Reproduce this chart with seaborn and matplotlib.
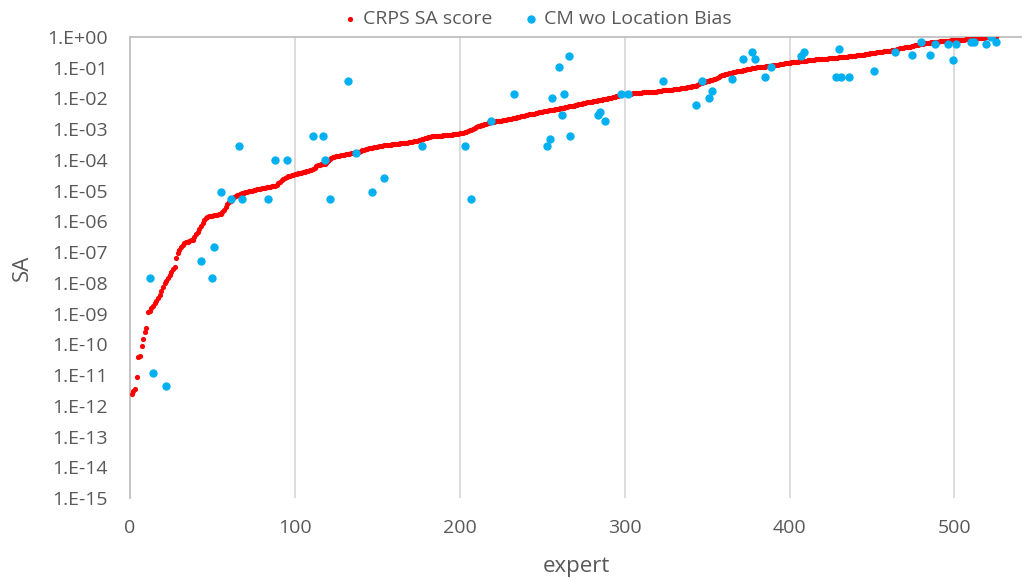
import numpy as np
import pandas as pd
import matplotlib
matplotlib.use("Agg")
import matplotlib.pyplot as plt
import seaborn as sns

# ---- data: log10 of SA ----
# CRPS SA score, experts 1..525 (sorted ascending)
crps_log10 = [
    -11.62, -11.52, -11.45, -11.07, -10.42, -10.38, -10.05, -9.84, -9.60, -9.48,
    -8.95, -8.91, -8.83, -8.74, -8.67, -8.60, -8.50, -8.40, -8.28, -8.12,
    -8.02, -7.94, -7.85, -7.75, -7.66, -7.55, -7.47, -7.20, -7.02, -6.93,
    -6.82, -6.76, -6.71, -6.68, -6.66, -6.64, -6.62, -6.60, -6.52, -6.41,
    -6.33, -6.26, -6.15, -6.06, -5.95, -5.88, -5.85, -5.83, -5.82, -5.81,
    -5.80, -5.79, -5.78, -5.77, -5.75, -5.71, -5.63, -5.52, -5.44, -5.38,
    -5.33, -5.27, -5.22, -5.18, -5.15, -5.13, -5.11, -5.09, -5.07, -5.05,
    -5.03, -5.02, -5.01, -5.00, -4.99, -4.97, -4.96, -4.94, -4.93, -4.92,
    -4.91, -4.90, -4.89, -4.88, -4.87, -4.86, -4.85, -4.84, -4.80, -4.75,
    -4.71, -4.66, -4.62, -4.59, -4.56, -4.53, -4.51, -4.49, -4.48, -4.46,
    -4.45, -4.44, -4.43, -4.41, -4.40, -4.39, -4.37, -4.35, -4.34, -4.32,
    -4.29, -4.25, -4.20, -4.17, -4.15, -4.14, -4.13, -4.12, -4.10, -4.04,
    -3.98, -3.95, -3.92, -3.90, -3.88, -3.87, -3.86, -3.85, -3.84, -3.83,
    -3.82, -3.81, -3.80, -3.79, -3.78, -3.77, -3.75, -3.74, -3.73, -3.71,
    -3.69, -3.67, -3.65, -3.63, -3.62, -3.61, -3.60, -3.59, -3.58, -3.57,
    -3.56, -3.55, -3.54, -3.53, -3.52, -3.51, -3.50, -3.50, -3.49, -3.48,
    -3.48, -3.47, -3.47, -3.46, -3.46, -3.45, -3.45, -3.44, -3.43, -3.42,
    -3.41, -3.40, -3.39, -3.37, -3.36, -3.34, -3.33, -3.31, -3.29, -3.27,
    -3.26, -3.24, -3.23, -3.23, -3.22, -3.22, -3.21, -3.21, -3.21, -3.20,
    -3.20, -3.19, -3.19, -3.18, -3.18, -3.17, -3.16, -3.15, -3.14, -3.13,
    -3.13, -3.12, -3.10, -3.08, -3.06, -3.04, -3.02, -2.99, -2.96, -2.93,
    -2.90, -2.88, -2.87, -2.85, -2.83, -2.82, -2.80, -2.79, -2.77, -2.76,
    -2.75, -2.74, -2.73, -2.72, -2.72, -2.71, -2.70, -2.69, -2.68, -2.67,
    -2.66, -2.65, -2.63, -2.62, -2.60, -2.59, -2.58, -2.57, -2.56, -2.55,
    -2.53, -2.52, -2.51, -2.50, -2.49, -2.47, -2.46, -2.45, -2.44, -2.43,
    -2.42, -2.41, -2.40, -2.39, -2.38, -2.37, -2.36, -2.35, -2.34, -2.33,
    -2.32, -2.31, -2.30, -2.28, -2.27, -2.26, -2.25, -2.24, -2.23, -2.22,
    -2.21, -2.19, -2.18, -2.17, -2.15, -2.14, -2.13, -2.12, -2.11, -2.10,
    -2.09, -2.08, -2.07, -2.06, -2.05, -2.04, -2.03, -2.02, -2.01, -2.00,
    -1.98, -1.97, -1.96, -1.94, -1.93, -1.91, -1.90, -1.88, -1.87, -1.86,
    -1.85, -1.85, -1.84, -1.84, -1.83, -1.83, -1.82, -1.82, -1.81, -1.81,
    -1.80, -1.80, -1.80, -1.80, -1.79, -1.79, -1.79, -1.79, -1.78, -1.77,
    -1.76, -1.75, -1.74, -1.73, -1.73, -1.72, -1.72, -1.71, -1.71, -1.70,
    -1.69, -1.69, -1.68, -1.67, -1.67, -1.66, -1.65, -1.64, -1.63, -1.62,
    -1.61, -1.60, -1.58, -1.56, -1.53, -1.51, -1.49, -1.47, -1.45, -1.44,
    -1.42, -1.41, -1.40, -1.38, -1.37, -1.34, -1.30, -1.27, -1.24, -1.22,
    -1.21, -1.19, -1.18, -1.17, -1.16, -1.15, -1.13, -1.12, -1.11, -1.10,
    -1.09, -1.08, -1.06, -1.05, -1.04, -1.03, -1.02, -1.01, -1.00, -0.99,
    -0.99, -0.98, -0.97, -0.97, -0.96, -0.95, -0.94, -0.94, -0.93, -0.92,
    -0.91, -0.90, -0.90, -0.89, -0.88, -0.87, -0.86, -0.85, -0.84, -0.83,
    -0.82, -0.81, -0.81, -0.80, -0.80, -0.79, -0.78, -0.78, -0.77, -0.77,
    -0.76, -0.75, -0.75, -0.74, -0.74, -0.73, -0.73, -0.73, -0.72, -0.72,
    -0.71, -0.71, -0.70, -0.69, -0.69, -0.68, -0.68, -0.67, -0.67, -0.66,
    -0.66, -0.65, -0.65, -0.64, -0.64, -0.63, -0.63, -0.62, -0.62, -0.61,
    -0.60, -0.60, -0.59, -0.58, -0.57, -0.56, -0.55, -0.54, -0.53, -0.52,
    -0.51, -0.51, -0.50, -0.49, -0.49, -0.48, -0.47, -0.47, -0.46, -0.45,
    -0.44, -0.43, -0.42, -0.41, -0.39, -0.38, -0.37, -0.36, -0.35, -0.34,
    -0.33, -0.32, -0.31, -0.29, -0.28, -0.27, -0.26, -0.25, -0.24, -0.23,
    -0.22, -0.21, -0.20, -0.19, -0.18, -0.17, -0.17, -0.16, -0.15, -0.15,
    -0.14, -0.14, -0.13, -0.13, -0.12, -0.12, -0.12, -0.11, -0.11, -0.11,
    -0.10, -0.10, -0.10, -0.09, -0.09, -0.09, -0.08, -0.08, -0.08, -0.07,
    -0.07, -0.06, -0.05, -0.04, -0.03, -0.03, -0.02, -0.02, -0.01, -0.01,
    -0.01, -0.01, 0.00, 0.00, 0.00,
]

# CM wo Location Bias: expert index and log10(SA)
cm_expert = [
    12, 14, 22, 43, 50, 51, 55, 61, 66, 68,
    84, 88, 95, 111, 117, 118, 121, 132, 137, 147,
    154, 177, 203, 207, 219, 233, 253, 255, 256, 260,
    262, 263, 266, 267, 284, 285, 288, 298, 302, 323,
    343, 347, 351, 353, 365, 372, 377, 379, 385, 389,
    407, 409, 428, 430, 431, 436, 451, 464, 474, 480,
    485, 488, 496, 499, 501, 510, 512, 519, 522, 525,
]
cm_log10 = [
    -7.85, -10.93, -11.37, -7.30, -7.85, -6.83, -5.04, -5.27, -3.55, -5.27,
    -5.27, -3.99, -3.99, -3.21, -3.21, -3.99, -5.27, -1.43, -3.79, -5.04,
    -4.58, -3.56, -3.56, -5.27, -2.74, -1.84, -3.55, -3.33, -2.00, -0.98,
    -2.54, -1.84, -0.62, -3.21, -2.54, -2.45, -2.73, -1.84, -1.84, -1.43,
    -2.21, -1.43, -2.00, -1.76, -1.37, -0.72, -0.49, -0.72, -1.31, -0.98,
    -0.63, -0.49, -1.31, -0.38, -1.31, -1.31, -1.12, -0.50, -0.60, -0.16,
    -0.60, -0.23, -0.23, -0.74, -0.23, -0.15, -0.15, -0.23, 0.00, -0.17,
]

series_names = ["CRPS SA score", "CM wo Location Bias"]
x_ticks = [0, 100, 200, 300, 400, 500]
y_exponents = list(range(0, -16, -1))

crps = pd.DataFrame({"expert": np.arange(1, len(crps_log10) + 1),
                     "SA": np.power(10.0, crps_log10)})
cm = pd.DataFrame({"expert": cm_expert, "SA": np.power(10.0, cm_log10)})

# ---- style ----
sns.set_theme(style="white")
plt.rcParams["font.family"] = ["Open Sans", "DejaVu Sans"]
text_color = "#595959"
grid_color = "#D9D9D9"

fig = plt.figure(figsize=(10.22, 5.81), dpi=100)
ax = fig.add_axes([0.1272, 0.1429, 0.8728, 0.7934])

sns.scatterplot(data=crps, x="expert", y="SA", ax=ax, color="#FF0000",
                s=14, linewidth=0, label=series_names[0], zorder=3)
sns.scatterplot(data=cm, x="expert", y="SA", ax=ax, color="#00B0F0",
                s=36, linewidth=0, label=series_names[1], zorder=4)

ax.set_yscale("log")
ax.set_ylim(1e-15, 1)
ax.set_xlim(0, 541)
ax.set_yticks([10.0 ** e for e in y_exponents])
ax.set_yticklabels([f"1.E{e:+03d}" if e == 0 else f"1.E-{abs(e):02d}" for e in y_exponents])
ax.yaxis.set_minor_locator(matplotlib.ticker.NullLocator())
ax.set_xticks(x_ticks)
ax.set_xticklabels([str(t) for t in x_ticks])

ax.tick_params(axis="both", length=0, labelsize=14, colors=text_color)
ax.tick_params(axis="y", pad=16)
ax.tick_params(axis="x", pad=15)

for t in x_ticks[1:]:
    ax.axvline(t, color=grid_color, linewidth=1.3, zorder=1)

for side in ["right", "bottom"]:
    ax.spines[side].set_visible(False)
for side in ["left", "top"]:
    ax.spines[side].set_color("#BFBFBF")
    ax.spines[side].set_linewidth(1.3)

ax.set_xlabel("expert", fontsize=16, color=text_color, labelpad=14)
ax.set_ylabel("SA", fontsize=16, color=text_color, labelpad=10)

ax.legend(loc="center", bbox_to_anchor=(0.5255, 0.967),
          bbox_transform=fig.transFigure, ncol=2,
          frameon=False, fontsize=14, labelcolor=text_color,
          handlelength=0.8, handletextpad=0.3, columnspacing=1.55,
          markerscale=1.0, borderaxespad=0.0, borderpad=0.0)

fig.savefig("out.png", dpi=100)
